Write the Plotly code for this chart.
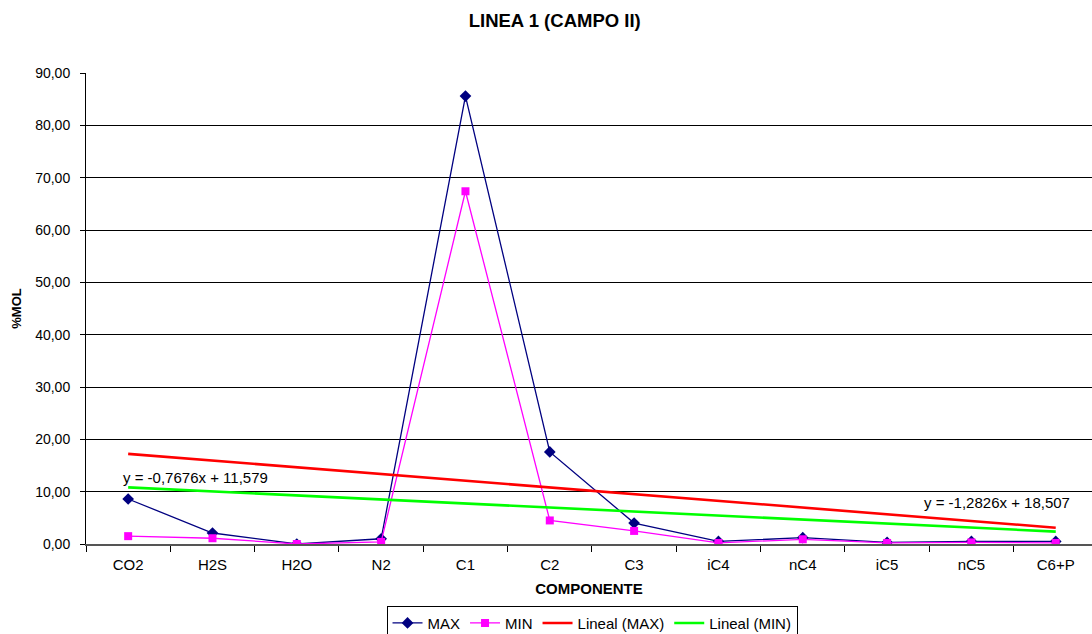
import plotly.graph_objects as go

# Componentes del gas y composición (%MOL) en la línea 1
componentes = ["CO2", "H2S", "H2O", "N2", "C1", "C2", "C3", "iC4", "nC4", "iC5", "nC5", "C6+P"]
mol_max = [8.6, 2.1, 0.0, 1.0, 85.6, 17.6, 4.0, 0.5, 1.2, 0.3, 0.5, 0.5]
mol_min = [1.5, 1.1, 0.0, 0.4, 67.4, 4.5, 2.5, 0.2, 0.9, 0.2, 0.3, 0.2]

# Ajustes lineales (x = 1..12)
pend_max, orig_max = -1.2826, 18.507
pend_min, orig_min = -0.7676, 11.579

x_idx = list(range(1, len(componentes) + 1))
tend_max = [pend_max * x + orig_max for x in x_idx]
tend_min = [pend_min * x + orig_min for x in x_idx]


def ecuacion(m, b):
    return "y = " + f"{m:.4f}".replace(".", ",") + "x + " + f"{b:.3f}".replace(".", ",")


font_fam = "Liberation Sans, Arial, sans-serif"

fig = go.Figure()
fig.add_trace(go.Scatter(
    x=componentes, y=mol_max, name="MAX", mode="lines+markers",
    line=dict(color="#000080", width=1.3),
    marker=dict(symbol="diamond", size=9, color="#000080"),
))
fig.add_trace(go.Scatter(
    x=componentes, y=mol_min, name="MIN", mode="lines+markers",
    line=dict(color="#FF00FF", width=1.3),
    marker=dict(symbol="square", size=8, color="#FF00FF"),
))
fig.add_trace(go.Scatter(
    x=componentes, y=tend_max, name="Lineal (MAX)", mode="lines",
    line=dict(color="#FF0000", width=2.6),
))
fig.add_trace(go.Scatter(
    x=componentes, y=tend_min, name="Lineal (MIN)", mode="lines",
    line=dict(color="#00FF00", width=2.6),
))

fig.add_annotation(
    x=-0.08, xref="x", xanchor="left", y=tend_min[0], yref="y", yanchor="bottom",
    yshift=-1, text=ecuacion(pend_min, orig_min), showarrow=False,
    font=dict(family=font_fam, size=15, color="black"),
)
fig.add_annotation(
    x=11.19, xref="x", xanchor="right", y=tend_max[-1] + 4.8, yref="y",
    yanchor="middle", text=ecuacion(pend_max, orig_max), showarrow=False,
    font=dict(family=font_fam, size=15, color="black"),
)

fig.update_layout(
    width=1092, height=634,
    margin=dict(l=86, r=0, t=73, b=90, autoexpand=False),
    paper_bgcolor="white", plot_bgcolor="white",
    separators=",.",
    font=dict(family=font_fam, size=14, color="black"),
    title=dict(
        text="<b>LINEA 1 (CAMPO II)</b>", x=0.508, xanchor="center",
        y=0.968, yanchor="middle", font=dict(family=font_fam, size=18.5, color="black"),
    ),
    showlegend=True,
    legend=dict(
        orientation="h", x=0.503, xanchor="center", y=-0.131, yanchor="top",
        bordercolor="black", borderwidth=1, bgcolor="white",
        font=dict(family=font_fam, size=15, color="black"),
        itemwidth=30, tracegroupgap=0,
    ),
)

fig.update_xaxes(
    type="category", range=[-0.5, 11.43],
    tickson="boundaries", ticks="outside", ticklen=6, tickcolor="black",
    ticklabelstandoff=6,
    showline=True, linecolor="#555555", linewidth=2,
    showgrid=False, zeroline=False,
    tickfont=dict(family=font_fam, size=15, color="black"),
    title=dict(text="<b>COMPONENTE</b>", standoff=11,
               font=dict(family=font_fam, size=15, color="black")),
)
fig.update_yaxes(
    range=[0, 90], dtick=10, tickformat=".2f",
    ticks="outside", ticklen=5, tickcolor="black",
    ticklabelstandoff=7,
    showline=True, linecolor="black", linewidth=1,
    showgrid=True, gridcolor="black", gridwidth=1,
    zeroline=False,
    tickfont=dict(family=font_fam, size=14, color="black"),
    title=dict(text="<b>%MOL</b>", standoff=10,
               font=dict(family=font_fam, size=13, color="black")),
)

fig.write_html("out.html")
